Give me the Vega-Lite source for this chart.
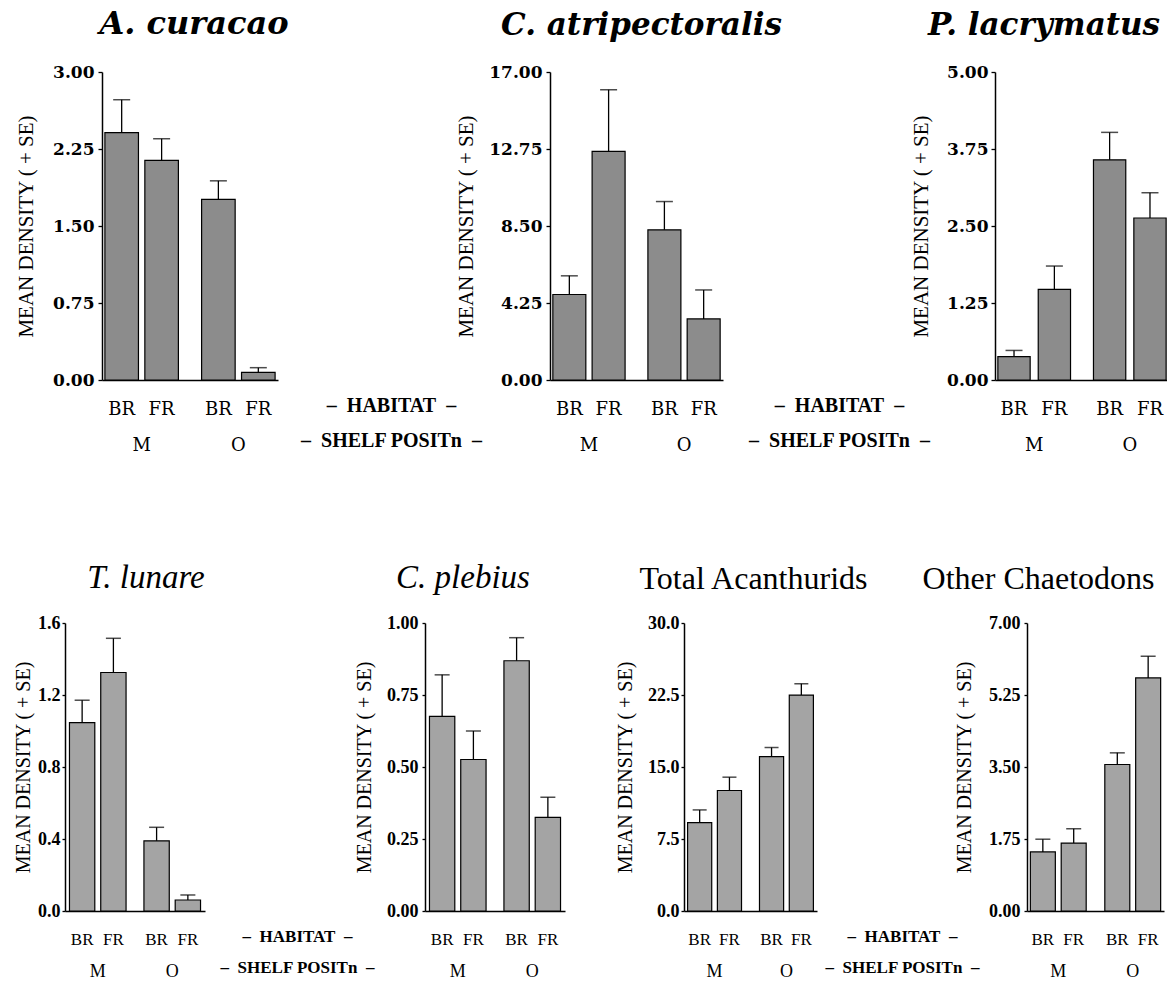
{
  "$schema": "https://vega.github.io/schema/vega-lite/v6.json",
  "padding": {"left": 13, "top": 8, "right": 0, "bottom": 0},
  "background": "white",
  "data": {"values": [
    {"panel": "A. curacao", "shelf": "M", "habitat": "BR", "mean": 2.41, "upper": 2.73},
    {"panel": "A. curacao", "shelf": "M", "habitat": "FR", "mean": 2.14, "upper": 2.35},
    {"panel": "A. curacao", "shelf": "O", "habitat": "BR", "mean": 1.76, "upper": 1.94},
    {"panel": "A. curacao", "shelf": "O", "habitat": "FR", "mean": 0.075, "upper": 0.12},
    {"panel": "C. atripectoralis", "shelf": "M", "habitat": "BR", "mean": 4.72, "upper": 5.75},
    {"panel": "C. atripectoralis", "shelf": "M", "habitat": "FR", "mean": 12.62, "upper": 16.02},
    {"panel": "C. atripectoralis", "shelf": "O", "habitat": "BR", "mean": 8.29, "upper": 9.85},
    {"panel": "C. atripectoralis", "shelf": "O", "habitat": "FR", "mean": 3.37, "upper": 4.97},
    {"panel": "P. lacrymatus", "shelf": "M", "habitat": "BR", "mean": 0.38, "upper": 0.48},
    {"panel": "P. lacrymatus", "shelf": "M", "habitat": "FR", "mean": 1.47, "upper": 1.85},
    {"panel": "P. lacrymatus", "shelf": "O", "habitat": "BR", "mean": 3.575, "upper": 4.02},
    {"panel": "P. lacrymatus", "shelf": "O", "habitat": "FR", "mean": 2.63, "upper": 3.04},
    {"panel": "T. lunare", "shelf": "M", "habitat": "BR", "mean": 1.046, "upper": 1.171},
    {"panel": "T. lunare", "shelf": "M", "habitat": "FR", "mean": 1.325, "upper": 1.515},
    {"panel": "T. lunare", "shelf": "O", "habitat": "BR", "mean": 0.39, "upper": 0.465},
    {"panel": "T. lunare", "shelf": "O", "habitat": "FR", "mean": 0.061, "upper": 0.089},
    {"panel": "C. plebius", "shelf": "M", "habitat": "BR", "mean": 0.676, "upper": 0.82},
    {"panel": "C. plebius", "shelf": "M", "habitat": "FR", "mean": 0.526, "upper": 0.625},
    {"panel": "C. plebius", "shelf": "O", "habitat": "BR", "mean": 0.869, "upper": 0.949},
    {"panel": "C. plebius", "shelf": "O", "habitat": "FR", "mean": 0.325, "upper": 0.395},
    {"panel": "Total Acanthurids", "shelf": "M", "habitat": "BR", "mean": 9.21, "upper": 10.53},
    {"panel": "Total Acanthurids", "shelf": "M", "habitat": "FR", "mean": 12.55, "upper": 13.94},
    {"panel": "Total Acanthurids", "shelf": "O", "habitat": "BR", "mean": 16.09, "upper": 17.03},
    {"panel": "Total Acanthurids", "shelf": "O", "habitat": "FR", "mean": 22.49, "upper": 23.67},
    {"panel": "Other Chaetodons", "shelf": "M", "habitat": "BR", "mean": 1.437, "upper": 1.745},
    {"panel": "Other Chaetodons", "shelf": "M", "habitat": "FR", "mean": 1.651, "upper": 1.999},
    {"panel": "Other Chaetodons", "shelf": "O", "habitat": "BR", "mean": 3.561, "upper": 3.844},
    {"panel": "Other Chaetodons", "shelf": "O", "habitat": "FR", "mean": 5.665, "upper": 6.191}
  ]},
  "config": {"view": {"stroke": null}, "axis": {"grid": false}, "title": {"color": "black"}},
  "spacing": 108,
  "resolve": {"scale": {"x": "independent", "y": "independent", "xOffset": "independent"}},
  "vconcat": [
    {
      "spacing": 0,
      "bounds": "flush",
      "resolve": {"scale": {"x": "independent", "y": "independent", "xOffset": "independent"}},
      "hconcat": [
        {"width": 37, "height": 308, "data": {"values": []}, "mark": {"type": "point", "opacity": 0}},
        {
          "width": 176, "height": 308,
          "title": {"text": "A. curacao", "font": "DejaVu Serif", "fontSize": 32, "fontWeight": "bold", "fontStyle": "italic", "frame": "group", "anchor": "middle", "baseline": "alphabetic", "offset": -3, "dx": 4},
          "transform": [{"filter": "datum.panel === 'A. curacao'"}],
          "encoding": {
            "x": {"field": "shelf", "type": "nominal", "sort": ["M", "O"], "scale": {"paddingInner": 0.24, "paddingOuter": 0.03},
              "axis": {"title": ["–\u2002HABITAT\u2002–", "–\u2002SHELF POSITn\u2002–"], "titleX": 289, "titleY": 31, "titleAlign": "center", "titleAngle": 0, "titleBaseline": "alphabetic", "titleLineHeight": 35, "titleFont": "Liberation Serif", "titleFontSize": 20, "titleFontWeight": "bold", "titleColor": "black", "labelAngle": 0, "labelPadding": 65, "labelBaseline": "middle", "labelFont": "DejaVu Serif", "labelFontSize": 18, "labelColor": "black", "ticks": false, "tickSize": 0, "domainColor": "black", "domainWidth": 1.5}},
            "xOffset": {"field": "habitat", "type": "nominal", "sort": ["BR", "FR"], "scale": {"paddingInner": 0.16, "paddingOuter": 0}}
          },
          "layer": [
            {"mark": {"type": "bar", "fill": "#8c8c8c", "stroke": "black", "strokeWidth": 1.2},
             "encoding": {"y": {"field": "mean", "type": "quantitative", "scale": {"domain": [0, 3], "nice": false},
               "axis": {"title": "MEAN DENSITY ( + SE)", "values": [0, 0.75, 1.5, 2.25, 3], "format": ".2f", "domainColor": "black", "domainWidth": 1.5, "tickColor": "black", "tickSize": 4, "tickWidth": 1.3, "labelFont": "DejaVu Serif", "labelFontSize": 17, "labelFontWeight": "bold", "labelColor": "black", "labelPadding": 4, "titleFont": "Liberation Serif", "titleFontSize": 21, "titleFontWeight": "normal", "titleColor": "black", "titlePadding": 16}}}},
            {"mark": {"type": "rule", "color": "black", "strokeWidth": 1.3}, "encoding": {"y": {"field": "mean", "type": "quantitative"}, "y2": {"field": "upper"}}},
            {"mark": {"type": "tick", "orient": "horizontal", "color": "black", "size": 17, "thickness": 1.5}, "encoding": {"y": {"field": "upper", "type": "quantitative"}}},
            {"mark": {"type": "text", "font": "DejaVu Serif", "fontSize": 18, "baseline": "middle", "dy": 30, "color": "black"}, "encoding": {"y": {"datum": 0}, "text": {"field": "habitat"}}}
          ]
        },
        {"width": 272, "height": 308, "data": {"values": []}, "mark": {"type": "point", "opacity": 0}},
        {
          "width": 173, "height": 308,
          "title": {"text": "C. atripectoralis", "font": "DejaVu Serif", "fontSize": 31, "fontWeight": "bold", "fontStyle": "italic", "frame": "group", "anchor": "middle", "baseline": "alphabetic", "offset": -3, "dx": 5},
          "transform": [{"filter": "datum.panel === 'C. atripectoralis'"}],
          "encoding": {
            "x": {"field": "shelf", "type": "nominal", "sort": ["M", "O"], "scale": {"paddingInner": 0.24, "paddingOuter": 0.03},
              "axis": {"title": ["–\u2002HABITAT\u2002–", "–\u2002SHELF POSITn\u2002–"], "titleX": 289, "titleY": 31, "titleAlign": "center", "titleAngle": 0, "titleBaseline": "alphabetic", "titleLineHeight": 35, "titleFont": "Liberation Serif", "titleFontSize": 20, "titleFontWeight": "bold", "titleColor": "black", "labelAngle": 0, "labelPadding": 65, "labelBaseline": "middle", "labelFont": "DejaVu Serif", "labelFontSize": 18, "labelColor": "black", "ticks": false, "tickSize": 0, "domainColor": "black", "domainWidth": 1.5}},
            "xOffset": {"field": "habitat", "type": "nominal", "sort": ["BR", "FR"], "scale": {"paddingInner": 0.16, "paddingOuter": 0}}
          },
          "layer": [
            {"mark": {"type": "bar", "fill": "#8c8c8c", "stroke": "black", "strokeWidth": 1.2},
             "encoding": {"y": {"field": "mean", "type": "quantitative", "scale": {"domain": [0, 17], "nice": false},
               "axis": {"title": "MEAN DENSITY ( + SE)", "values": [0, 4.25, 8.5, 12.75, 17], "format": ".2f", "domainColor": "black", "domainWidth": 1.5, "tickColor": "black", "tickSize": 4, "tickWidth": 1.3, "labelFont": "DejaVu Serif", "labelFontSize": 17, "labelFontWeight": "bold", "labelColor": "black", "labelPadding": 4, "titleFont": "Liberation Serif", "titleFontSize": 21, "titleFontWeight": "normal", "titleColor": "black", "titlePadding": 12}}}},
            {"mark": {"type": "rule", "color": "black", "strokeWidth": 1.3}, "encoding": {"y": {"field": "mean", "type": "quantitative"}, "y2": {"field": "upper"}}},
            {"mark": {"type": "tick", "orient": "horizontal", "color": "black", "size": 17, "thickness": 1.5}, "encoding": {"y": {"field": "upper", "type": "quantitative"}}},
            {"mark": {"type": "text", "font": "DejaVu Serif", "fontSize": 18, "baseline": "middle", "dy": 30, "color": "black"}, "encoding": {"y": {"datum": 0}, "text": {"field": "habitat"}}}
          ]
        },
        {"width": 272, "height": 308, "data": {"values": []}, "mark": {"type": "point", "opacity": 0}},
        {
          "width": 174, "height": 308,
          "title": {"text": "P. lacrymatus", "font": "DejaVu Serif", "fontSize": 31, "fontWeight": "bold", "fontStyle": "italic", "frame": "group", "anchor": "middle", "baseline": "alphabetic", "offset": -3, "dx": -38},
          "transform": [{"filter": "datum.panel === 'P. lacrymatus'"}],
          "encoding": {
            "x": {"field": "shelf", "type": "nominal", "sort": ["M", "O"], "scale": {"paddingInner": 0.24, "paddingOuter": 0.03},
              "axis": {"title": null, "labelAngle": 0, "labelPadding": 65, "labelBaseline": "middle", "labelFont": "DejaVu Serif", "labelFontSize": 18, "labelColor": "black", "ticks": false, "tickSize": 0, "domainColor": "black", "domainWidth": 1.5}},
            "xOffset": {"field": "habitat", "type": "nominal", "sort": ["BR", "FR"], "scale": {"paddingInner": 0.2, "paddingOuter": 0}}
          },
          "layer": [
            {"mark": {"type": "bar", "fill": "#8c8c8c", "stroke": "black", "strokeWidth": 1.2},
             "encoding": {"y": {"field": "mean", "type": "quantitative", "scale": {"domain": [0, 5], "nice": false},
               "axis": {"title": "MEAN DENSITY ( + SE)", "values": [0, 1.25, 2.5, 3.75, 5], "format": ".2f", "domainColor": "black", "domainWidth": 1.5, "tickColor": "black", "tickSize": 4, "tickWidth": 1.3, "labelFont": "DejaVu Serif", "labelFontSize": 17, "labelFontWeight": "bold", "labelColor": "black", "labelPadding": 3, "titleFont": "Liberation Serif", "titleFontSize": 21, "titleFontWeight": "normal", "titleColor": "black", "titlePadding": 15}}}},
            {"mark": {"type": "rule", "color": "black", "strokeWidth": 1.3}, "encoding": {"y": {"field": "mean", "type": "quantitative"}, "y2": {"field": "upper"}}},
            {"mark": {"type": "tick", "orient": "horizontal", "color": "black", "size": 17, "thickness": 1.5}, "encoding": {"y": {"field": "upper", "type": "quantitative"}}},
            {"mark": {"type": "text", "font": "DejaVu Serif", "fontSize": 18, "baseline": "middle", "dy": 30, "color": "black"}, "encoding": {"y": {"datum": 0}, "text": {"field": "habitat"}}}
          ]
        }
      ]
    },
    {
      "spacing": 0,
      "bounds": "flush",
      "resolve": {"scale": {"x": "independent", "y": "independent", "xOffset": "independent"}},
      "hconcat": [
        {
          "width": 140, "height": 288,
          "title": {"text": "T. lunare", "font": "Liberation Serif", "fontSize": 33, "fontWeight": "normal", "fontStyle": "italic", "frame": "group", "anchor": "middle", "baseline": "alphabetic", "offset": -7, "dx": 11},
          "transform": [{"filter": "datum.panel === 'T. lunare'"}],
          "encoding": {
            "x": {"field": "shelf", "type": "nominal", "sort": ["M", "O"], "scale": {"paddingInner": 0.24, "paddingOuter": 0.06},
              "axis": {"title": ["–\u2002HABITAT\u2002–", "–\u2002SHELF POSITn\u2002–"], "titleX": 232, "titleY": 30, "titleAlign": "center", "titleAngle": 0, "titleBaseline": "alphabetic", "titleLineHeight": 31, "titleFont": "Liberation Serif", "titleFontSize": 17, "titleFontWeight": "bold", "titleColor": "black", "labelAngle": 0, "labelPadding": 60, "labelBaseline": "middle", "labelFont": "Liberation Serif", "labelFontSize": 18, "labelColor": "black", "ticks": false, "tickSize": 0, "domainColor": "black", "domainWidth": 1.5}},
            "xOffset": {"field": "habitat", "type": "nominal", "sort": ["BR", "FR"], "scale": {"paddingInner": 0.19, "paddingOuter": 0}}
          },
          "layer": [
            {"mark": {"type": "bar", "fill": "#a4a4a4", "stroke": "black", "strokeWidth": 1.2},
             "encoding": {"y": {"field": "mean", "type": "quantitative", "scale": {"domain": [0, 1.6], "nice": false},
               "axis": {"title": "MEAN DENSITY ( + SE)", "values": [0, 0.4, 0.8, 1.2, 1.6], "format": ".1f", "domainColor": "black", "domainWidth": 1.5, "tickColor": "black", "tickSize": 3, "tickWidth": 1.3, "labelFont": "Liberation Serif", "labelFontSize": 18, "labelFontWeight": "bold", "labelColor": "black", "labelPadding": 2, "titleFont": "Liberation Serif", "titleFontSize": 20, "titleFontWeight": "normal", "titleColor": "black", "titlePadding": 4}}}},
            {"mark": {"type": "rule", "color": "black", "strokeWidth": 1.3}, "encoding": {"y": {"field": "mean", "type": "quantitative"}, "y2": {"field": "upper"}}},
            {"mark": {"type": "tick", "orient": "horizontal", "color": "black", "size": 15, "thickness": 1.5}, "encoding": {"y": {"field": "upper", "type": "quantitative"}}},
            {"mark": {"type": "text", "font": "Liberation Serif", "fontSize": 17, "baseline": "middle", "dy": 29, "color": "black"}, "encoding": {"y": {"datum": 0}, "text": {"field": "habitat"}}}
          ]
        },
        {"width": 220, "height": 288, "data": {"values": []}, "mark": {"type": "point", "opacity": 0}},
        {
          "width": 140, "height": 288,
          "title": {"text": "C. plebius", "font": "Liberation Serif", "fontSize": 33, "fontWeight": "normal", "fontStyle": "italic", "frame": "group", "anchor": "middle", "baseline": "alphabetic", "offset": -7, "dx": -32},
          "transform": [{"filter": "datum.panel === 'C. plebius'"}],
          "encoding": {
            "x": {"field": "shelf", "type": "nominal", "sort": ["M", "O"], "scale": {"paddingInner": 0.24, "paddingOuter": 0.06},
              "axis": {"title": null, "labelAngle": 0, "labelPadding": 60, "labelBaseline": "middle", "labelFont": "Liberation Serif", "labelFontSize": 18, "labelColor": "black", "ticks": false, "tickSize": 0, "domainColor": "black", "domainWidth": 1.5}},
            "xOffset": {"field": "habitat", "type": "nominal", "sort": ["BR", "FR"], "scale": {"paddingInner": 0.19, "paddingOuter": 0}}
          },
          "layer": [
            {"mark": {"type": "bar", "fill": "#a4a4a4", "stroke": "black", "strokeWidth": 1.2},
             "encoding": {"y": {"field": "mean", "type": "quantitative", "scale": {"domain": [0, 1], "nice": false},
               "axis": {"title": "MEAN DENSITY ( + SE)", "values": [0, 0.25, 0.5, 0.75, 1], "format": ".2f", "domainColor": "black", "domainWidth": 1.5, "tickColor": "black", "tickSize": 3, "tickWidth": 1.3, "labelFont": "Liberation Serif", "labelFontSize": 18, "labelFontWeight": "bold", "labelColor": "black", "labelPadding": 4, "titleFont": "Liberation Serif", "titleFontSize": 20, "titleFontWeight": "normal", "titleColor": "black", "titlePadding": 12}}}},
            {"mark": {"type": "rule", "color": "black", "strokeWidth": 1.3}, "encoding": {"y": {"field": "mean", "type": "quantitative"}, "y2": {"field": "upper"}}},
            {"mark": {"type": "tick", "orient": "horizontal", "color": "black", "size": 15, "thickness": 1.5}, "encoding": {"y": {"field": "upper", "type": "quantitative"}}},
            {"mark": {"type": "text", "font": "Liberation Serif", "fontSize": 17, "baseline": "middle", "dy": 29, "color": "black"}, "encoding": {"y": {"datum": 0}, "text": {"field": "habitat"}}}
          ]
        },
        {"width": 119, "height": 288, "data": {"values": []}, "mark": {"type": "point", "opacity": 0}},
        {
          "width": 133, "height": 288,
          "title": {"text": "Total Acanthurids", "font": "Liberation Serif", "fontSize": 32, "fontWeight": "normal", "frame": "group", "anchor": "middle", "baseline": "alphabetic", "offset": -7, "dx": 3},
          "transform": [{"filter": "datum.panel === 'Total Acanthurids'"}],
          "encoding": {
            "x": {"field": "shelf", "type": "nominal", "sort": ["M", "O"], "scale": {"paddingInner": 0.25, "paddingOuter": 0.05},
              "axis": {"title": ["–\u2002HABITAT\u2002–", "–\u2002SHELF POSITn\u2002–"], "titleX": 218, "titleY": 30, "titleAlign": "center", "titleAngle": 0, "titleBaseline": "alphabetic", "titleLineHeight": 31, "titleFont": "Liberation Serif", "titleFontSize": 17, "titleFontWeight": "bold", "titleColor": "black", "labelAngle": 0, "labelPadding": 60, "labelBaseline": "middle", "labelFont": "Liberation Serif", "labelFontSize": 18, "labelColor": "black", "ticks": false, "tickSize": 0, "domainColor": "black", "domainWidth": 1.5}},
            "xOffset": {"field": "habitat", "type": "nominal", "sort": ["BR", "FR"], "scale": {"paddingInner": 0.19, "paddingOuter": 0}}
          },
          "layer": [
            {"mark": {"type": "bar", "fill": "#a4a4a4", "stroke": "black", "strokeWidth": 1.2},
             "encoding": {"y": {"field": "mean", "type": "quantitative", "scale": {"domain": [0, 30], "nice": false},
               "axis": {"title": "MEAN DENSITY ( + SE)", "values": [0, 7.5, 15, 22.5, 30], "format": ".1f", "domainColor": "black", "domainWidth": 1.5, "tickColor": "black", "tickSize": 3, "tickWidth": 1.3, "labelFont": "Liberation Serif", "labelFontSize": 18, "labelFontWeight": "bold", "labelColor": "black", "labelPadding": 2, "titleFont": "Liberation Serif", "titleFontSize": 20, "titleFontWeight": "normal", "titleColor": "black", "titlePadding": 12}}}},
            {"mark": {"type": "rule", "color": "black", "strokeWidth": 1.3}, "encoding": {"y": {"field": "mean", "type": "quantitative"}, "y2": {"field": "upper"}}},
            {"mark": {"type": "tick", "orient": "horizontal", "color": "black", "size": 14, "thickness": 1.5}, "encoding": {"y": {"field": "upper", "type": "quantitative"}}},
            {"mark": {"type": "text", "font": "Liberation Serif", "fontSize": 17, "baseline": "middle", "dy": 29, "color": "black"}, "encoding": {"y": {"datum": 0}, "text": {"field": "habitat"}}}
          ]
        },
        {"width": 210, "height": 288, "data": {"values": []}, "mark": {"type": "point", "opacity": 0}},
        {
          "width": 137, "height": 288,
          "title": {"text": "Other Chaetodons", "font": "Liberation Serif", "fontSize": 32, "fontWeight": "normal", "frame": "group", "anchor": "middle", "baseline": "alphabetic", "offset": -7, "dx": -57},
          "transform": [{"filter": "datum.panel === 'Other Chaetodons'"}],
          "encoding": {
            "x": {"field": "shelf", "type": "nominal", "sort": ["M", "O"], "scale": {"paddingInner": 0.25, "paddingOuter": 0.045},
              "axis": {"title": null, "labelAngle": 0, "labelPadding": 60, "labelBaseline": "middle", "labelFont": "Liberation Serif", "labelFontSize": 18, "labelColor": "black", "ticks": false, "tickSize": 0, "domainColor": "black", "domainWidth": 1.5}},
            "xOffset": {"field": "habitat", "type": "nominal", "sort": ["BR", "FR"], "scale": {"paddingInner": 0.19, "paddingOuter": 0}}
          },
          "layer": [
            {"mark": {"type": "bar", "fill": "#a4a4a4", "stroke": "black", "strokeWidth": 1.2},
             "encoding": {"y": {"field": "mean", "type": "quantitative", "scale": {"domain": [0, 7], "nice": false},
               "axis": {"title": "MEAN DENSITY ( + SE)", "values": [0, 1.75, 3.5, 5.25, 7], "format": ".2f", "domainColor": "black", "domainWidth": 1.5, "tickColor": "black", "tickSize": 3, "tickWidth": 1.3, "labelFont": "Liberation Serif", "labelFontSize": 18, "labelFontWeight": "bold", "labelColor": "black", "labelPadding": 4, "titleFont": "Liberation Serif", "titleFontSize": 20, "titleFontWeight": "normal", "titleColor": "black", "titlePadding": 14}}}},
            {"mark": {"type": "rule", "color": "black", "strokeWidth": 1.3}, "encoding": {"y": {"field": "mean", "type": "quantitative"}, "y2": {"field": "upper"}}},
            {"mark": {"type": "tick", "orient": "horizontal", "color": "black", "size": 15, "thickness": 1.5}, "encoding": {"y": {"field": "upper", "type": "quantitative"}}},
            {"mark": {"type": "text", "font": "Liberation Serif", "fontSize": 17, "baseline": "middle", "dy": 29, "color": "black"}, "encoding": {"y": {"datum": 0}, "text": {"field": "habitat"}}}
          ]
        }
      ]
    }
  ]
}
